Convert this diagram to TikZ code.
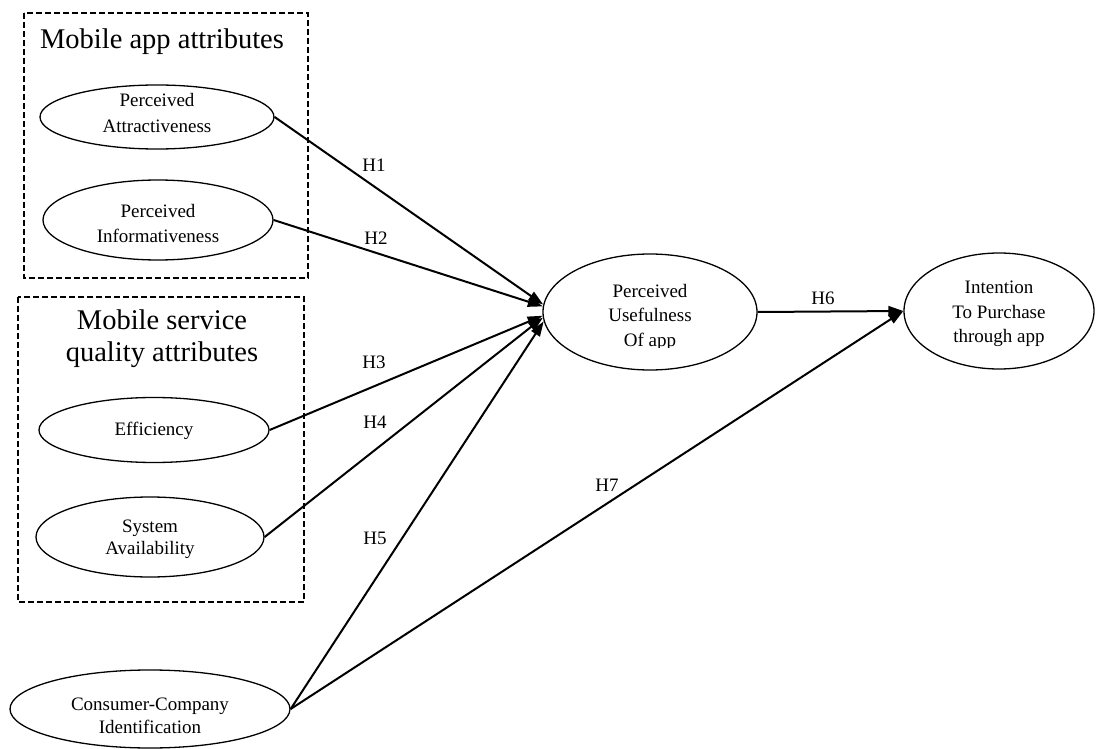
\documentclass[tikz,border=0pt]{standalone}
\usepackage{fontspec}
\setmainfont{Liberation Serif}
\usetikzlibrary{shapes.geometric,arrows.meta}
\begin{document}
\begin{tikzpicture}[x=1pt,y=-1pt,
  ell/.style={ellipse,draw,line width=1.3pt,inner sep=0pt},
  txt/.style={align=center,inner sep=0pt},
  arr/.style={line width=2pt,-{Triangle[length=15pt,width=10pt]}},
  lbl/.style={font=\fontsize{19}{22}\selectfont},
  grp/.style={draw,line width=1.8pt,dash pattern=on 6pt off 3pt},
  ttl/.style={font=\fontsize{28.5}{32}\selectfont,align=center}]
\useasboundingbox (0,0) rectangle (1096,749);
% groups
\draw[grp] (24,13) rectangle (308,278);
\draw[grp] (18,297) rectangle (304,602);
\node[ttl] (t1) at (162,42) {Mobile app attributes};
\node[ttl] (t2) at (162,339) {Mobile service\\quality attributes};
% constructs
\node[ell,minimum width=234pt,minimum height=64pt] (pa) at (157,117) {};
\node[txt,font=\fontsize{19}{26}\selectfont] (pat) at (157,113) {Perceived\\Attractiveness};
\node[ell,minimum width=230pt,minimum height=80pt] (pi) at (158,220) {};
\node[txt,font=\fontsize{19}{25}\selectfont] (pit) at (158,224) {Perceived\\Informativeness};
\node[ell,minimum width=230pt,minimum height=65pt] (ef) at (154,430) {};
\node[txt,font=\fontsize{19}{24}\selectfont] (eft) at (154,431) {Efficiency};
\node[ell,minimum width=228pt,minimum height=80pt] (sa) at (150,537) {};
\node[txt,font=\fontsize{19}{22}\selectfont] (sat) at (150,539) {System\\Availability};
\node[ell,minimum width=280pt,minimum height=78pt] (cc) at (150,709) {};
\node[txt,font=\fontsize{19}{23}\selectfont] (cct) at (150,716) {Consumer-Company\\Identification};
\node[ell,minimum width=214pt,minimum height=116pt] (pu) at (650,312) {};
\begin{scope}
  \clip (560,250) rectangle (740,347);
  \node[txt,font=\fontsize{19}{24.5}\selectfont] (put) at (650,317) {Perceived\\Usefulness\\Of app};
\end{scope}
\node[ell,minimum width=190pt,minimum height=116pt] (ip) at (999,311) {};
\node[txt,font=\fontsize{19}{24.5}\selectfont] (ipt) at (999,314) {Intention\\To Purchase\\through app};
% connectors
\draw[arr] (pa.east) -- (pu.176);
\draw[arr] (pi.east) -- (pu.177);
\draw[arr] (ef.east) -- (pu.182);
\draw[arr] (sa.east) -- (pu.183);
\draw[arr] (cc.east) -- (pu.185);
\draw[arr] (pu.east) -- (ip.west);
\draw[arr] (cc.east) -- (ip.west);
% labels
\node[lbl] (h1) at (374,165) {H1};
\node[lbl] (h2) at (376,238) {H2};
\node[lbl] (h3) at (374,362) {H3};
\node[lbl] (h4) at (375,422) {H4};
\node[lbl] (h5) at (375,538) {H5};
\node[lbl] (h6) at (823,298) {H6};
\node[lbl] (h7) at (607,485) {H7};
\end{tikzpicture}
\end{document}
